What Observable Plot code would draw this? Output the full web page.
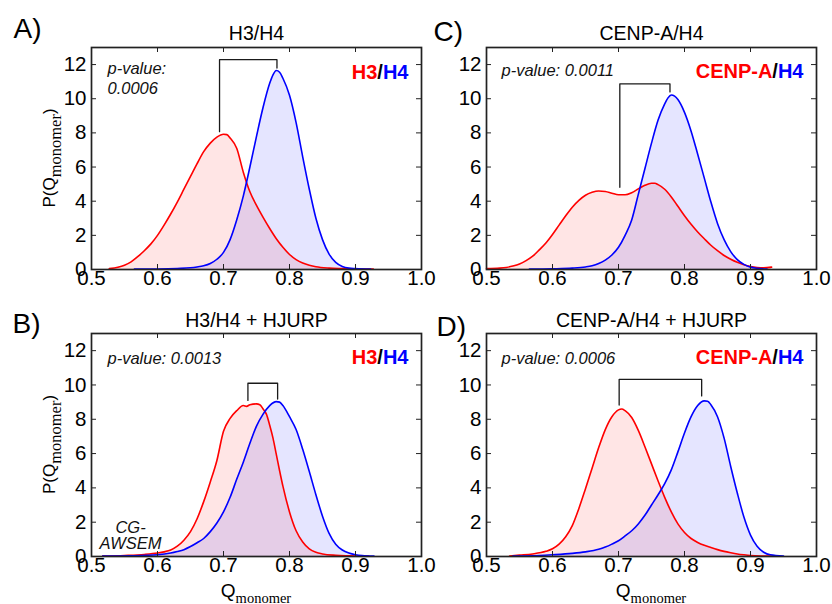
<!DOCTYPE html>
<html><head><meta charset="utf-8">
<script src="https://cdn.jsdelivr.net/npm/d3@7"></script>
<script src="https://cdn.jsdelivr.net/npm/@observablehq/plot@0.6"></script>
<style>
html,body{margin:0;padding:0;background:#fff;}
body{width:832px;height:604px;overflow:hidden;position:relative;font-family:"Liberation Sans",Arial,sans-serif;}
.panel{position:absolute;}
.panel svg{overflow:visible;}
</style></head><body>
<script>
// ---------- data ----------
const xTicks = [0.5, 0.6, 0.7, 0.8, 0.9, 1.0];
const yTicks = [0, 2, 4, 6, 8, 10, 12];
const panelLetters = ["A)", "B)", "C)", "D)"];
const panelTitles = ["H3/H4", "H3/H4 + HJURP", "CENP-A/H4", "CENP-A/H4 + HJURP"];
const pValueLabels = ["p-value:\n0.0006", "p-value: 0.0013", "p-value: 0.0011", "p-value: 0.0006"];
const redNames = ["H3", "H3", "CENP-A", "CENP-A"];
const blueNames = ["H4", "H4", "H4", "H4"];
const methodLabel = "CG-\nAWSEM";

// [Q, P] pairs
const aRed = [[0.527,0.05],[0.54,0.13],[0.55,0.25],[0.56,0.45],[0.57,0.75],[0.58,1.1],[0.59,1.5],[0.60,2.0],[0.61,2.6],[0.62,3.25],[0.63,3.95],[0.64,4.7],[0.65,5.45],[0.66,6.2],[0.67,6.9],[0.68,7.4],[0.69,7.75],[0.70,7.92],[0.705,7.9],[0.71,7.7],[0.72,7.1],[0.73,5.7],[0.74,4.55],[0.75,3.75],[0.76,3.05],[0.77,2.4],[0.78,1.8],[0.79,1.3],[0.80,0.88],[0.81,0.58],[0.82,0.38],[0.83,0.25],[0.84,0.16],[0.86,0.08],[0.88,0.05],[0.90,0.03],[0.927,0.02]];
const aBlue = [[0.565,0.02],[0.60,0.03],[0.63,0.06],[0.65,0.1],[0.66,0.15],[0.67,0.22],[0.68,0.35],[0.69,0.6],[0.70,1.0],[0.71,1.75],[0.72,2.9],[0.73,4.3],[0.74,6.0],[0.75,7.8],[0.76,9.5],[0.77,10.9],[0.775,11.4],[0.78,11.65],[0.785,11.55],[0.79,11.2],[0.80,10.2],[0.81,8.6],[0.82,6.6],[0.83,4.7],[0.84,3.0],[0.85,1.75],[0.86,0.9],[0.87,0.42],[0.88,0.18],[0.89,0.08],[0.90,0.05],[0.923,0.02]];
const bRed = [[0.517,0.02],[0.55,0.06],[0.58,0.12],[0.60,0.2],[0.61,0.27],[0.62,0.38],[0.63,0.6],[0.64,0.95],[0.65,1.45],[0.66,2.2],[0.67,3.2],[0.68,4.35],[0.69,5.6],[0.70,7.3],[0.71,8.05],[0.72,8.5],[0.73,8.8],[0.735,8.75],[0.74,8.85],[0.75,8.9],[0.755,8.85],[0.76,8.6],[0.765,8.3],[0.77,7.65],[0.775,6.9],[0.78,5.95],[0.785,5.0],[0.79,4.1],[0.80,2.6],[0.81,1.5],[0.82,0.85],[0.83,0.45],[0.84,0.25],[0.85,0.15],[0.87,0.07],[0.89,0.04],[0.92,0.02]];
const bBlue = [[0.517,0.02],[0.56,0.04],[0.60,0.1],[0.62,0.2],[0.63,0.29],[0.64,0.4],[0.65,0.58],[0.66,0.8],[0.67,1.05],[0.68,1.45],[0.69,1.95],[0.70,2.6],[0.71,3.45],[0.72,4.5],[0.73,5.5],[0.74,6.6],[0.75,7.6],[0.76,8.3],[0.77,8.8],[0.78,9.03],[0.785,9.0],[0.79,8.8],[0.80,8.15],[0.81,7.4],[0.82,6.25],[0.83,4.95],[0.84,3.6],[0.85,2.35],[0.86,1.35],[0.87,0.72],[0.88,0.38],[0.89,0.2],[0.90,0.1],[0.91,0.05],[0.928,0.02]];
const cRed = [[0.50,0.05],[0.52,0.08],[0.53,0.12],[0.54,0.2],[0.55,0.32],[0.56,0.52],[0.57,0.78],[0.58,1.15],[0.59,1.55],[0.60,2.05],[0.61,2.6],[0.62,3.15],[0.63,3.65],[0.64,4.05],[0.65,4.35],[0.66,4.52],[0.67,4.6],[0.68,4.57],[0.69,4.47],[0.70,4.38],[0.71,4.38],[0.72,4.5],[0.73,4.72],[0.74,4.93],[0.75,5.05],[0.755,5.05],[0.76,4.97],[0.77,4.7],[0.78,4.25],[0.79,3.7],[0.80,3.15],[0.81,2.65],[0.82,2.2],[0.83,1.8],[0.84,1.42],[0.85,1.1],[0.86,0.82],[0.87,0.6],[0.88,0.42],[0.89,0.28],[0.90,0.18],[0.91,0.12],[0.92,0.1],[0.932,0.14]];
const cBlue = [[0.565,0.02],[0.60,0.04],[0.63,0.08],[0.65,0.15],[0.66,0.22],[0.67,0.35],[0.68,0.55],[0.69,0.85],[0.70,1.3],[0.71,2.0],[0.72,2.9],[0.73,4.4],[0.74,5.9],[0.75,7.4],[0.76,8.75],[0.77,9.7],[0.775,10.05],[0.78,10.22],[0.785,10.15],[0.79,9.95],[0.80,9.2],[0.81,8.1],[0.82,6.75],[0.83,5.35],[0.84,3.95],[0.85,2.7],[0.86,1.75],[0.87,1.05],[0.88,0.58],[0.89,0.3],[0.90,0.14],[0.91,0.07],[0.925,0.03]];
const dRed = [[0.535,0.03],[0.55,0.08],[0.57,0.15],[0.59,0.3],[0.60,0.45],[0.61,0.72],[0.62,1.15],[0.63,1.8],[0.64,2.8],[0.65,3.95],[0.66,5.15],[0.67,6.35],[0.68,7.4],[0.69,8.15],[0.70,8.55],[0.705,8.6],[0.71,8.5],[0.72,8.1],[0.73,7.35],[0.74,6.4],[0.75,5.4],[0.76,4.4],[0.77,3.45],[0.78,2.6],[0.79,1.9],[0.80,1.4],[0.81,1.05],[0.82,0.82],[0.83,0.65],[0.84,0.52],[0.85,0.4],[0.86,0.3],[0.87,0.22],[0.88,0.15],[0.89,0.1],[0.90,0.06],[0.92,0.03],[0.935,0.02]];
const dBlue = [[0.54,0.03],[0.58,0.06],[0.60,0.1],[0.63,0.18],[0.65,0.27],[0.67,0.42],[0.68,0.55],[0.69,0.72],[0.70,0.92],[0.71,1.2],[0.72,1.5],[0.73,1.9],[0.74,2.4],[0.75,3.0],[0.76,3.6],[0.77,4.25],[0.78,5.05],[0.79,6.1],[0.80,7.2],[0.81,8.15],[0.82,8.8],[0.83,9.07],[0.835,9.05],[0.84,8.85],[0.85,8.15],[0.86,6.9],[0.87,5.25],[0.88,3.7],[0.89,2.3],[0.90,1.25],[0.91,0.6],[0.92,0.25],[0.93,0.1],[0.95,0.03]];

// significance brackets: left leg x / bottom, right leg x / bottom, top
const bracketX1 = [0.694, 0.737, 0.702, 0.701];
const bracketY1 = [8.07, 9.1, 4.81, 8.83];
const bracketX2 = [0.781, 0.782, 0.778, 0.826];
const bracketY2 = [11.8, 9.18, 10.4, 9.36];
const bracketTop = [12.29, 10.1, 10.87, 10.33];

// ---------- layout ----------
const redSeries = [aRed, bRed, cRed, dRed];
const blueSeries = [aBlue, bBlue, cBlue, dBlue];
const layout = [
  {left: 0,   top: 0,   width: 432, height: 300, ml: 91, mr: 11, mt: 47, mb: 31, letterDx: -78, letterDy: -9.5, titleDy: -7.5, pDx: 16, pDy: 46, legDy: 31, yLabel: true,  xLabel: false},
  {left: 0,   top: 286, width: 432, height: 318, ml: 91, mr: 11, mt: 47, mb: 48, letterDx: -79, letterDy: -1,   titleDy: -6.7, pDx: 16, pDy: 30, legDy: 30, yLabel: true,  xLabel: true},
  {left: 416, top: 0,   width: 416, height: 300, ml: 70, mr: 16, mt: 47, mb: 31, letterDx: -53, letterDy: -7,   titleDy: -7.5, pDx: 15, pDy: 28.6, legDy: 30, yLabel: false, xLabel: false},
  {left: 416, top: 286, width: 416, height: 318, ml: 70, mr: 16, mt: 47, mb: 48, letterDx: -50, letterDy: 2,    titleDy: -6.7, pDx: 15, pDy: 30, legDy: 30, yLabel: false, xLabel: true}
];

const FONT = "Liberation Sans";
const SERIF = "Liberation Serif";
const ctx = document.createElement("canvas").getContext("2d");
function textWidth(s, font) { ctx.font = font; return ctx.measureText(s).width; }

const toObj = arr => arr.map(([q, p]) => ({q, p}));

layout.forEach((L, i) => {
  const W = L.width - L.ml - L.mr;
  const H = L.height - L.mt - L.mb;
  const red = toObj(redSeries[i]);
  const blue = toObj(blueSeries[i]);
  const bracket = [
    {q: bracketX1[i], p: bracketY1[i]},
    {q: bracketX1[i], p: bracketTop[i]},
    {q: bracketX2[i], p: bracketTop[i]},
    {q: bracketX2[i], p: bracketY2[i]}
  ];

  // legend pieces (multi-coloured)
  const legSize = 20;
  const legFont = `bold ${legSize}px "${FONT}"`;
  const pieces = [
    {t: redNames[i], c: "#ff0000"},
    {t: "/", c: "#000000"},
    {t: blueNames[i], c: "#0000ff"}
  ];
  let acc = 0;
  const legendMarks = [];
  for (let k = pieces.length - 1; k >= 0; --k) {
    legendMarks.push(Plot.text([pieces[k].t], {
      text: d => d, frameAnchor: "top-right", textAnchor: "end", lineAnchor: "bottom",
      dx: -13 - acc, dy: L.legDy, fill: pieces[k].c, fontWeight: "bold", fontSize: legSize
    }));
    acc += textWidth(pieces[k].t, legFont);
  }

  const marks = [
    Plot.areaY(red, {x: "q", y: "p", fill: "#ff0000", fillOpacity: 0.1, curve: "monotone-x"}),
    Plot.areaY(blue, {x: "q", y: "p", fill: "#0000ff", fillOpacity: 0.1, curve: "monotone-x"}),
    Plot.line(red, {x: "q", y: "p", stroke: "#ff0000", strokeWidth: 1.6, curve: "monotone-x"}),
    Plot.line(blue, {x: "q", y: "p", stroke: "#0000ff", strokeWidth: 1.6, curve: "monotone-x"}),
    Plot.line(bracket, {x: "q", y: "p", stroke: "#1a1a1a", strokeWidth: 1.3}),
    // inward ticks on all four sides
    Plot.tickX(xTicks, {x: d => d, insetTop: H - 5, stroke: "#222", strokeWidth: 1}),
    Plot.tickX(xTicks, {x: d => d, insetBottom: H - 5, stroke: "#222", strokeWidth: 1}),
    Plot.tickY(yTicks, {y: d => d, insetRight: W - 5, stroke: "#222", strokeWidth: 1}),
    Plot.tickY(yTicks, {y: d => d, insetLeft: W - 5, stroke: "#222", strokeWidth: 1}),
    Plot.axisX(xTicks, {tickSize: 0, tickPadding: 1, fontSize: 20.5, tickFormat: d3.format(".1f"), fill: "#000", label: null}),
    Plot.axisY(yTicks, {tickSize: 0, tickPadding: 5, fontSize: 20.5, fill: "#000", label: null}),
    Plot.text([panelTitles[i]], {text: d => d, frameAnchor: "top", lineAnchor: "bottom", dy: L.titleDy, fontSize: 19.5, fill: "#000"}),
    Plot.text([panelLetters[i]], {text: d => d, frameAnchor: "top-left", textAnchor: "start", lineAnchor: "bottom", dx: L.letterDx, dy: L.letterDy, fontSize: 28, fill: "#000"}),
    Plot.text([pValueLabels[i]], {text: d => d, frameAnchor: "top-left", textAnchor: "start", lineAnchor: "bottom", dx: L.pDx, dy: L.pDy, fontSize: 16.5, fontStyle: "italic", lineHeight: 1.2, fill: "#111"}),
    ...legendMarks,
    Plot.frame({stroke: "#222", strokeWidth: 1.7})
  ];
  if (i === 1) {
    marks.push(Plot.text([methodLabel], {text: d => d, frameAnchor: "bottom-left", textAnchor: "middle", lineAnchor: "bottom", dx: 39, dy: -8, fontSize: 16.5, fontStyle: "italic", lineHeight: 0.97, fill: "#111"}));
  }

  const chart = Plot.plot({
    width: L.width, height: L.height,
    marginLeft: L.ml, marginRight: L.mr, marginTop: L.mt, marginBottom: L.mb,
    x: {domain: [0.5, 1.0]},
    y: {domain: [0, 13]},
    style: {fontFamily: FONT, background: "transparent", color: "#000", overflow: "visible"},
    marks
  });

  const svg = d3.select(chart);
  if (L.yLabel) {
    const cy = L.mt + H / 2;
    const t = svg.append("text")
      .attr("transform", `translate(${55 - L.left},${cy}) rotate(-90)`)
      .attr("text-anchor", "middle").attr("fill", "#000")
      .attr("font-family", FONT).attr("font-size", 17);
    t.append("tspan").text("P(Q");
    t.append("tspan").attr("dy", 6).attr("font-family", SERIF).attr("font-size", 16.5).text("monomer");
    t.append("tspan").attr("dy", -6).text(")");
  }
  if (L.xLabel) {
    const cx = L.ml + W / 2;
    const t = svg.append("text")
      .attr("transform", `translate(${cx},${597 - L.top})`)
      .attr("text-anchor", "middle").attr("fill", "#000")
      .attr("font-family", FONT).attr("font-size", 19);
    t.append("tspan").text("Q");
    t.append("tspan").attr("dy", 6).attr("font-family", SERIF).attr("font-size", 14.5).text("monomer");
  }

  const div = document.createElement("div");
  div.className = "panel";
  div.style.left = L.left + "px";
  div.style.top = L.top + "px";
  div.appendChild(chart);
  document.body.appendChild(div);
});
</script>
</body></html>
